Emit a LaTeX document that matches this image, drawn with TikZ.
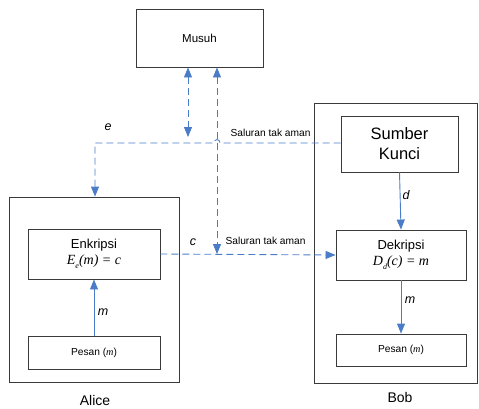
\documentclass[tikz,border=0pt]{standalone}
\usepackage{fontspec}
\setmainfont{Liberation Sans}
\newfontfamily\formfont{Liberation Serif}
\usetikzlibrary{arrows.meta}
\definecolor{linkblue}{HTML}{4A7CC8}
\definecolor{boxgray}{HTML}{3A3A3A}
% italic serif formula text with a lowered index
\newcommand{\ffsub}[1]{\raisebox{-0.25em}{\fontsize{8}{8}\selectfont #1}}
\begin{document}
\begin{tikzpicture}[x=1pt,y=-1pt,
  box/.style={draw=boxgray,line width=0.9pt,inner sep=0pt},
  tip/.style={-{Triangle[length=10pt,width=8pt]}},
  flow/.style={draw=linkblue,line width=0.9pt,tip},
  chan/.style={draw=linkblue,line width=0.9pt,dash pattern=on 7pt off 4pt},
  lbl/.style={font=\fontsize{10.2}{12}\selectfont},
  var/.style={font=\itshape\fontsize{12.5}{14}\selectfont}]
\useasboundingbox (0,0) rectangle (479,408);

% outer frames of the two parties
\node[box,minimum width=170pt,minimum height=185pt] (alice) at (94,289.5) {};
\node[box,minimum width=163pt,minimum height=280pt] (bob) at (395.5,243) {};
\node[font=\fontsize{14}{16}\selectfont,inner sep=0pt] (alicelbl) at (95,400) {Alice};
\node[font=\fontsize{14}{16}\selectfont,inner sep=0pt] (boblbl) at (400,397) {Bob};

% boxes
\node[box,minimum width=127pt,minimum height=58pt,font=\fontsize{11.5}{13}\selectfont] (musuh) at (199.5,38) {Musuh};
\node[box,minimum width=132pt,minimum height=50pt,align=center,font=\fontsize{13}{16}\selectfont] (enk) at (94,254)
  {Enkripsi\\[0pt] {\formfont\itshape\fontsize{14}{16}\selectfont E\ffsub{e}(m) = c}};
\node[box,minimum width=132pt,minimum height=33pt,font=\fontsize{10.2}{12}\selectfont] (pesA) at (94,352.5)
  {Pesan ({\formfont\itshape m})};
\node[box,minimum width=117pt,minimum height=56pt,align=center,font=\fontsize{16.5}{20}\selectfont] (sk) at (399.5,144) {Sumber\\Kunci};
\node[box,minimum width=130pt,minimum height=50pt,align=center,font=\fontsize{13}{16}\selectfont] (dek) at (401,255)
  {Dekripsi\\[0pt] {\formfont\itshape\fontsize{14}{16}\selectfont D\ffsub{d}(c) = m}};
\node[box,minimum width=130pt,minimum height=32pt,font=\fontsize{10.2}{12}\selectfont] (pesB) at (401,350)
  {Pesan ({\formfont\itshape m})};

% key channel e, from the key source to Alice
\coordinate (ecorner) at (95,143);
\coordinate (hopR) at (220,143);
\coordinate (hopL) at (214,143);
\draw[chan,tip] (sk.west |- ecorner) -- (hopR) .. controls (220,138.5) and (214,138.5) .. (hopL)
  -- (ecorner) -- (ecorner |- alice.north);

% ciphertext channel c, from Alice to Bob
\draw[chan,tip] (enk.east) -- (dek.west);

% eavesdropper taps
\coordinate (tapL) at (188,137);
\coordinate (tapR) at (217,254);
\draw[chan,{Triangle[length=10pt,width=8pt]}-{Triangle[length=10pt,width=8pt]}] (musuh.south -| tapL) -- (tapL);
\draw[chan,{Triangle[length=10pt,width=8pt]}-{Triangle[length=10pt,width=8pt]}] (musuh.south -| tapR) -- (tapR);

% solid flows
\draw[flow] (pesA.north) -- (enk.south);
\draw[flow] (sk.south) -- (dek.north);
\draw[flow] (dek.south) -- (pesB.north);

% labels
\node[var] (elbl) at (108,127) {e};
\node[var] (clbl) at (193,242) {c};
\node[var] (dlbl) at (406,195) {d};
\node[var] (mA) at (103,312) {m};
\node[var] (mB) at (410,300) {m};
\node[lbl,anchor=west] (sal1) at (227,133) {Saluran tak aman};
\node[lbl,anchor=west] (sal2) at (222,241) {Saluran tak aman};
\end{tikzpicture}
\end{document}
